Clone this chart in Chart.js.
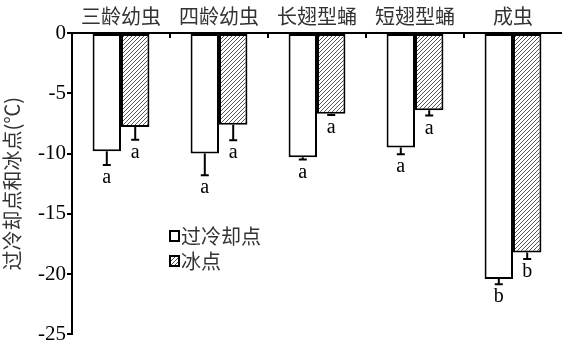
<!DOCTYPE html>
<html>
<head>
<meta charset="utf-8">
<script src="https://cdn.jsdelivr.net/npm/chart.js@4"></script>
<style>
  html, body { margin: 0; padding: 0; background: #fff; }
  #wrap { width: 562px; height: 348px; }
</style>
</head>
<body>
<div id="wrap"><canvas id="chart"></canvas></div>
<script>
// data
const categories = ["三龄幼虫", "四龄幼虫", "长翅型蛹", "短翅型蛹", "成虫"];
const supercooling = [-9.8, -10.0, -10.3, -9.5, -20.4];
const supercoolingErr = [1.15, 1.8, 0.2, 0.55, 0.45];
const supercoolingSig = ["a", "a", "a", "a", "b"];
const freezing = [-7.8, -7.6, -6.7, -6.4, -18.2];
const freezingErr = [1.05, 1.3, 0.1, 0.45, 0.55];
const freezingSig = ["a", "a", "a", "a", "b"];
const yTicks = [0, -5, -10, -15, -20, -25];

const CJK = "'Noto Sans CJK SC', sans-serif";
const SERIF = "'Liberation Serif', serif";

Chart.defaults.font.family = SERIF;

// diagonal hatch pattern for the freezing point bars
function makeHatch(spacing, color, bg) {
  const c = document.createElement("canvas");
  c.width = spacing;
  c.height = spacing;
  const g = c.getContext("2d");
  g.fillStyle = bg;
  g.fillRect(0, 0, spacing, spacing);
  g.strokeStyle = color;
  g.lineWidth = 1;
  g.beginPath();
  g.moveTo(-1, spacing + 1);
  g.lineTo(spacing + 1, -1);
  g.moveTo(-1, 1);
  g.lineTo(1, -1);
  g.moveTo(spacing - 1, spacing + 1);
  g.lineTo(spacing + 1, spacing - 1);
  g.stroke();
  return g.createPattern(c, "repeat");
}
const hatch = makeHatch(4, "#555", "#fff");

// error bars, significance letters, category dividers and legend
const extras = {
  id: "extras",
  afterDatasetsDraw(chart) {
    const ctx = chart.ctx;
    const y = chart.scales.y;
    const x = chart.scales.x;
    const errs = [supercoolingErr, freezingErr];
    const sigs = [supercoolingSig, freezingSig];
    ctx.save();
    ctx.strokeStyle = "#000";
    ctx.fillStyle = "#000";
    ctx.lineWidth = 2;
    chart.data.datasets.forEach((ds, di) => {
      const meta = chart.getDatasetMeta(di);
      meta.data.forEach((bar, i) => {
        const v = ds.data[i];
        const yEnd = y.getPixelForValue(v - errs[di][i]);
        const yBar = y.getPixelForValue(v);
        ctx.beginPath();
        ctx.moveTo(bar.x, yBar);
        ctx.lineTo(bar.x, yEnd);
        ctx.moveTo(bar.x - 4, yEnd);
        ctx.lineTo(bar.x + 4, yEnd);
        ctx.stroke();
        ctx.font = "20px " + SERIF;
        ctx.textAlign = "center";
        ctx.textBaseline = "alphabetic";
        ctx.fillText(sigs[di][i], bar.x, yEnd + 18);
      });
    });
    // small divider ticks between categories on the top axis
    ctx.lineWidth = 2;
    for (let i = 0; i < categories.length - 1; i++) {
      const xm = (x.getPixelForValue(i) + x.getPixelForValue(i + 1)) / 2;
      ctx.beginPath();
      ctx.moveTo(xm, y.getPixelForValue(0));
      ctx.lineTo(xm, y.getPixelForValue(0) + 5);
      ctx.stroke();
    }
    // legend inside the plot
    const lx = 170, ly = [236, 261];
    const names = chart.data.datasets.map(d => d.label);
    ctx.font = "20px " + CJK;
    ctx.textAlign = "left";
    ctx.textBaseline = "middle";
    names.forEach((n, k) => {
      ctx.fillStyle = k === 0 ? "#fff" : hatch;
      ctx.fillRect(lx, ly[k] - 5, 9, 10);
      ctx.strokeStyle = "#000";
      ctx.lineWidth = 2;
      ctx.strokeRect(lx, ly[k] - 5, 9, 10);
      ctx.fillStyle = "#333";
      ctx.fillText(n, lx + 11, ly[k]);
    });
    ctx.restore();
  }
};

new Chart(document.getElementById("chart"), {
  type: "bar",
  data: {
    labels: categories,
    datasets: [
      {
        label: "过冷却点",
        data: supercooling,
        backgroundColor: "#fff",
        borderColor: "#000",
        borderWidth: 2,
        borderSkipped: false,
      },
      {
        label: "冰点",
        data: freezing,
        backgroundColor: hatch,
        borderColor: "#000",
        borderWidth: 2,
        borderSkipped: false,
      },
    ],
  },
  options: {
    responsive: true,
    maintainAspectRatio: false,
    animation: false,
    devicePixelRatio: 1,
    layout: { padding: { left: 0, right: 0, top: 0, bottom: 0 } },
    datasets: { bar: { categoryPercentage: 0.58, barPercentage: 1.0 } },
    plugins: {
      legend: { display: false },
      tooltip: { enabled: false },
    },
    scales: {
      x: {
        position: "top",
        grid: { display: false, drawTicks: false },
        border: { display: true, color: "#000", width: 2 },
        ticks: {
          color: "#333",
          padding: 5,
          font: { family: CJK, size: 20 },
        },
        afterFit(scale) { scale.height = 33; },
      },
      y: {
        min: -25,
        max: 0,
        afterBuildTicks(scale) { scale.ticks = yTicks.map(v => ({ value: v })); },
        grid: { display: true, drawOnChartArea: false, drawTicks: true, tickLength: 5, color: "#000", lineWidth: 2 },
        border: { display: true, color: "#000", width: 2 },
        ticks: {
          color: "#000",
          padding: 1,
          font: { family: SERIF, size: 21 },
        },
        title: {
          display: true,
          text: "过冷却点和冰点(℃)",
          color: "#333",
          font: { family: CJK, size: 20 },
          padding: { top: 0, bottom: 0 },
        },
        afterFit(scale) { scale.width = 72; },
      },
    },
  },
  plugins: [extras],
});
</script>
</body>
</html>
